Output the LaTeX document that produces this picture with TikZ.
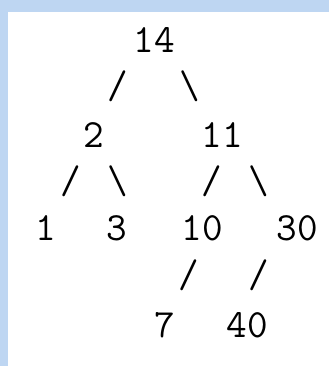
\documentclass[tikz,border=0pt]{standalone}
\usepackage{fontspec}
\usepackage{tikz}
\definecolor{paneblue}{RGB}{190,214,242}

\begin{document}
\begin{tikzpicture}[x=1pt,y=-1pt,
    key/.style={inner sep=0pt,anchor=base,font=\ttfamily\fontsize{40}{48}\selectfont},
    slash/.style={key}]
  \useasboundingbox (0,0) rectangle (329,366);
  % backdrop: blue frame top and left, white pane
  \fill[paneblue] (0,0) rectangle (329,366);
  \fill[white] (8,12) rectangle (329,366);
  % root
  \node[key] (n14) at (154,53) {14};
  \node[slash] (s14l) at (118,99) {/};
  \node[slash] (s14r) at (190,99) {\textbackslash};
  % second level
  \node[key] (n2) at (94,147) {2};
  \node[key] (n11) at (222,147) {11};
  \node[slash] (s2l) at (71,193) {/};
  \node[slash] (s2r) at (118,193) {\textbackslash};
  \node[slash] (s11l) at (212,193) {/};
  \node[slash] (s11r) at (259,193) {\textbackslash};
  % third level
  \node[key] (n1) at (46,240) {1};
  \node[key] (n3) at (117,240) {3};
  \node[key] (n10) at (202,240) {10};
  \node[key] (n30) at (297,240) {30};
  \node[slash] (s10l) at (189,287) {/};
  \node[slash] (s30l) at (259,287) {/};
  % leaves
  \node[key] (n7) at (165,337) {7};
  \node[key] (n40) at (247,337) {40};
\end{tikzpicture}
\end{document}
